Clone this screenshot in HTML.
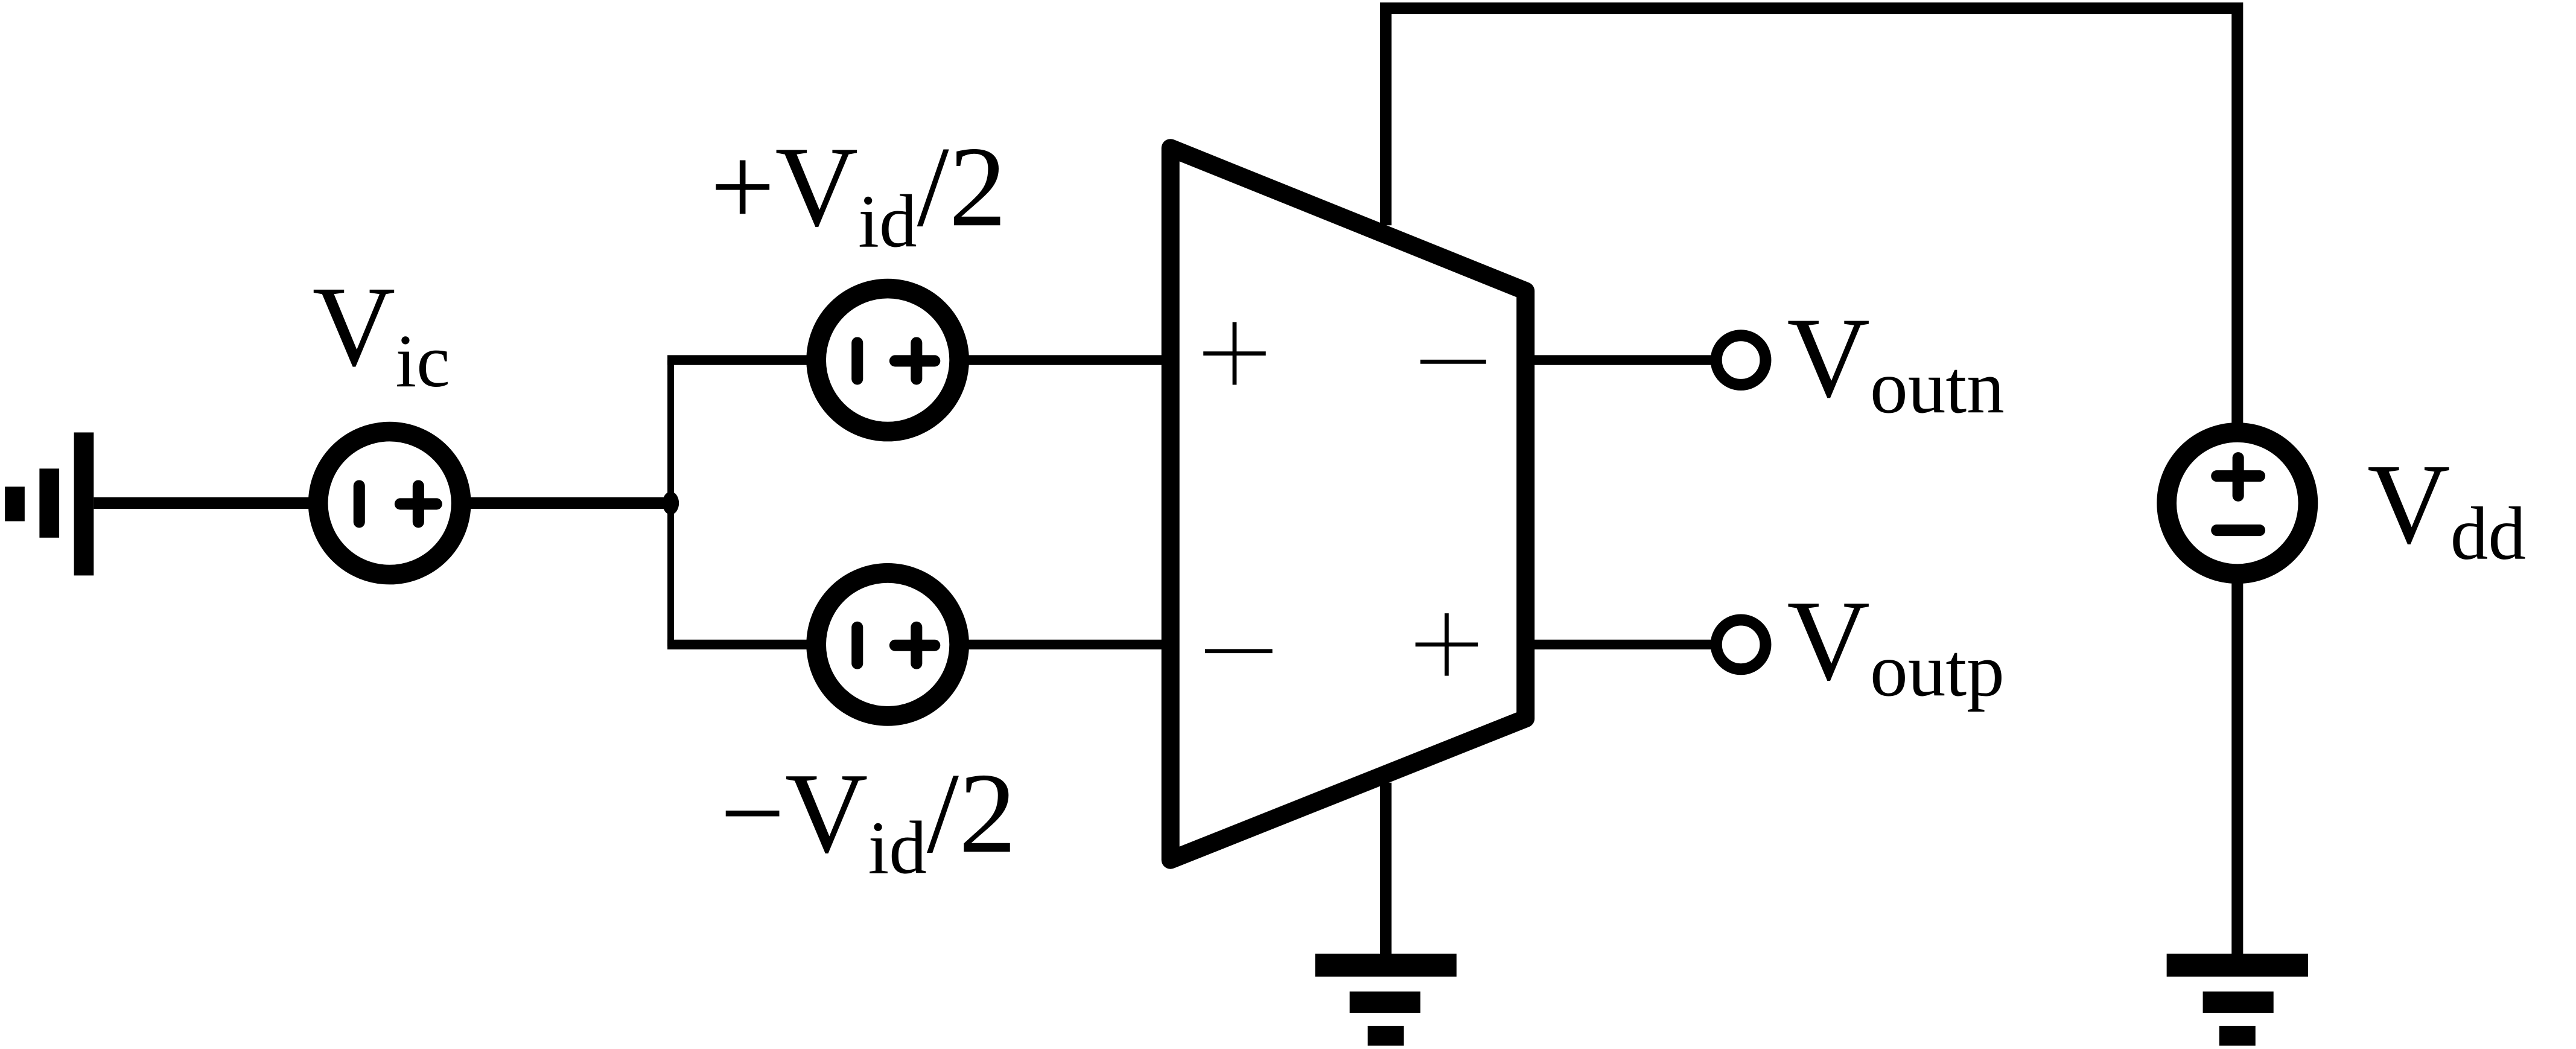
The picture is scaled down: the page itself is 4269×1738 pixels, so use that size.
<!DOCTYPE html>
<html><head><meta charset="utf-8"><style>html,body{margin:0;padding:0;background:#fff;width:4269px;height:1738px;overflow:hidden}</style></head>
<body>
<svg width="4269" height="1738" viewBox="0 0 1567 638" preserveAspectRatio="none" xmlns="http://www.w3.org/2000/svg">
<g stroke="#000" fill="none" stroke-linecap="butt">
<rect x="3" y="296" width="12" height="21" fill="#000" stroke="none"/>
<rect x="24" y="285" width="12" height="42" fill="#000" stroke="none"/>
<rect x="45" y="263" width="12" height="87" fill="#000" stroke="none"/>
<line x1="57" y1="306" x2="192" y2="306" stroke-width="7"/>
<circle cx="237" cy="306" r="43.5" stroke-width="12"/>
<line x1="282" y1="306" x2="408" y2="306" stroke-width="7"/>
<ellipse cx="408" cy="306" rx="5" ry="7" fill="#000" stroke="none"/>
<line x1="408" y1="219" x2="408" y2="393" stroke-width="4"/>
<line x1="406" y1="219" x2="495" y2="219" stroke-width="6"/>
<line x1="406" y1="392" x2="495" y2="392" stroke-width="6"/>
<circle cx="540" cy="219" r="43.5" stroke-width="12"/>
<circle cx="540" cy="392" r="43.5" stroke-width="12"/>
<line x1="585" y1="219" x2="712" y2="219" stroke-width="6"/>
<line x1="585" y1="392" x2="712" y2="392" stroke-width="6"/>
<polygon points="712,90 928,177 928,437 712,523" stroke-width="11" stroke-linejoin="round"/>
<polyline points="843,137 843,5 1361,5 1361,262" stroke-width="7"/>
<line x1="1361" y1="350" x2="1361" y2="583" stroke-width="7"/>
<circle cx="1361" cy="306" r="43" stroke-width="12"/>
<line x1="843" y1="476" x2="843" y2="583" stroke-width="7"/>
<line x1="928" y1="219" x2="1042" y2="219" stroke-width="6"/>
<line x1="928" y1="392" x2="1042" y2="392" stroke-width="6"/>
<circle cx="1059" cy="219" r="15" stroke-width="7"/>
<circle cx="1059" cy="392" r="15" stroke-width="7"/>
<line x1="732" y1="215" x2="770" y2="215" stroke-width="2.5"/>
<line x1="751" y1="196" x2="751" y2="234" stroke-width="2.5"/>
<line x1="864" y1="220" x2="904" y2="220" stroke-width="2.5"/>
<line x1="733" y1="396" x2="774" y2="396" stroke-width="2.5"/>
<line x1="861" y1="392" x2="899" y2="392" stroke-width="2.5"/>
<line x1="880" y1="373" x2="880" y2="411" stroke-width="2.5"/>
</g>
<g fill="#000">
<rect x="215" y="292" width="7" height="29" rx="3.5"/><rect x="251" y="292" width="7" height="29" rx="3.5"/><rect x="240" y="303" width="29" height="7" rx="3.5"/>
<rect x="518" y="205" width="7" height="29" rx="3.5"/><rect x="554" y="205" width="7" height="29" rx="3.5"/><rect x="541" y="216" width="31" height="7" rx="3.5"/>
<rect x="518" y="378" width="7" height="29" rx="3.5"/><rect x="554" y="378" width="7" height="29" rx="3.5"/><rect x="541" y="389" width="31" height="7" rx="3.5"/>
<rect x="1358" y="275" width="7" height="30" rx="3.5"/><rect x="1345" y="286" width="33" height="7" rx="3.5"/>
<rect x="1345" y="319" width="33" height="7" rx="3.5"/>
<rect x="800" y="580" width="86" height="14"/><rect x="821" y="603" width="43" height="13"/><rect x="832" y="624" width="22" height="12"/>
<rect x="1318" y="580" width="86" height="14"/><rect x="1340" y="603" width="43" height="13"/><rect x="1350" y="624" width="22" height="12"/>
</g>
<g font-family="Liberation Serif, serif" fill="#000">
<text x="190" y="222" font-size="70">V<tspan font-size="46" dy="13">ic</tspan></text>
<text x="432" y="137" font-size="70">+V<tspan font-size="46" dy="13">id</tspan><tspan dy="-13">/2</tspan></text>
<text x="438" y="518" font-size="70">−V<tspan font-size="46" dy="13">id</tspan><tspan dy="-13">/2</tspan></text>
<text x="1087" y="241" font-size="70">V<tspan font-size="46" dy="10">outn</tspan></text>
<text x="1087" y="413" font-size="70">V<tspan font-size="46" dy="10">outp</tspan></text>
<text x="1440" y="330" font-size="70">V<tspan font-size="46" dy="10">dd</tspan></text>
</g>
</svg>
</body></html>
